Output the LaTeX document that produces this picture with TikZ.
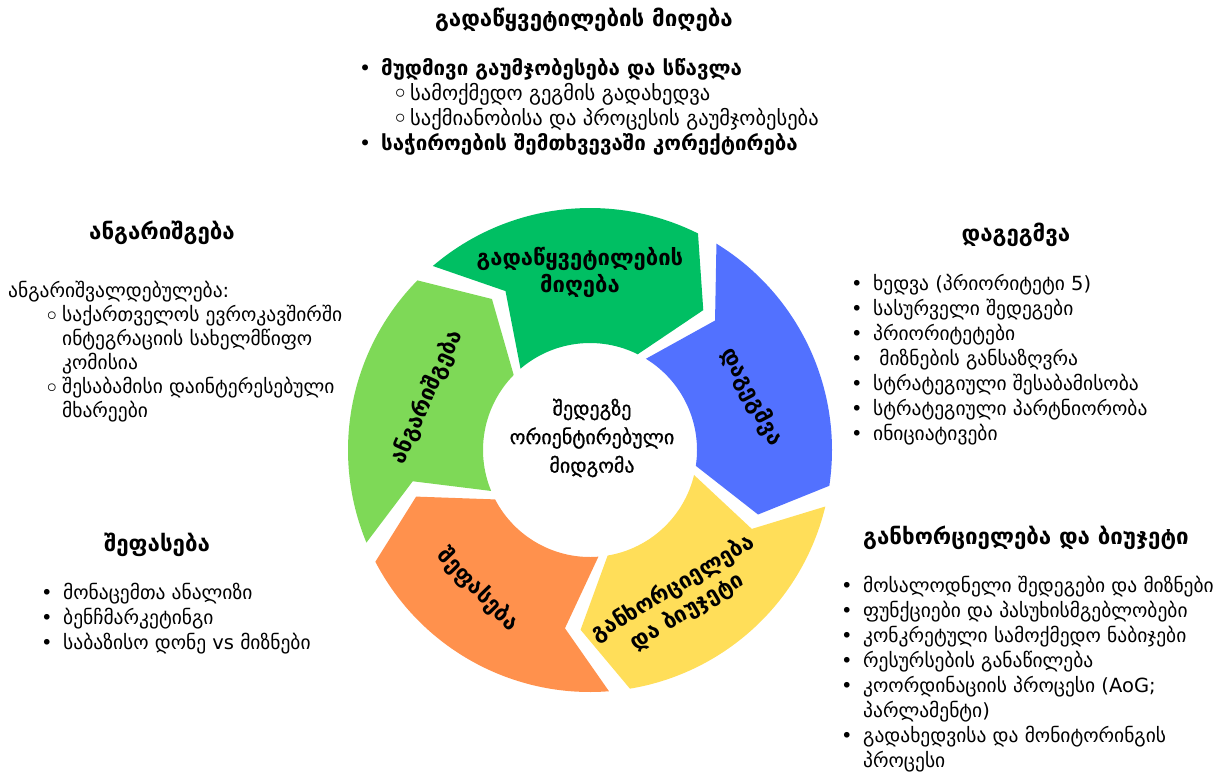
\documentclass[tikz,border=0pt]{standalone}
\usepackage{fontspec}
\setmainfont{DejaVu Sans}
\newfontfamily\corefont{DejaVu Sans}[FakeBold=0.9]
\usepackage{xcolor}

\definecolor{cGreen}{HTML}{00BF63}
\definecolor{cBlue}{HTML}{5271FF}
\definecolor{cYellow}{HTML}{FFDE59}
\definecolor{cOrange}{HTML}{FF914D}
\definecolor{cLime}{HTML}{7ED957}

\tikzset{
  heading/.style={font=\bfseries\fontsize{22.3}{26}\selectfont},
  bullets/.style={align=left, anchor=north west, inner sep=0pt, font=\fontsize{19.5}{25}\selectfont},
  seglabel/.style={align=center, font=\bfseries\fontsize{22}{27}\selectfont},
}
\newcommand{\bl}{\makebox[22pt][l]{•}}
\newcommand{\cl}{\makebox[18pt][l]{\raisebox{-3.5pt}{\scalebox{1.35}{◦}}}}

\begin{document}
\begin{tikzpicture}[x=1pt, y=-1pt]
  \useasboundingbox (0,0) rectangle (1228,772);

  % Ciclo
  \begin{scope}[shift={(590,450)}, y=1pt]
    \foreach \a/\col in {133/cGreen, 61/cBlue, -11/cYellow, -83/cOrange, -155/cLime}{
      \fill[\col] ({\a-2.5}:242) arc[start angle=\a-2.5, end angle=\a-69.5, radius=242]
        -- ({\a-82}:180) -- ({\a-69.5}:107)
        arc[start angle=\a-69.5, end angle=\a-2.5, radius=107]
        -- ({\a-15}:180) -- cycle;
    }
  \end{scope}

  \node[seglabel] (lDecision) at (580,272) {გადაწყვეტილების\\მიღება};
  \node[seglabel, rotate=-62] (lPlanning) at (752,397) {დაგეგმვა};
  \node[seglabel, rotate=31] (lImpl) at (680,600) {განხორციელება\\და ბიუჯეტი};
  \node[seglabel, rotate=-46] (lEval) at (478,590) {შეფასება};
  \node[seglabel, rotate=66] (lAccount) at (427,397) {ანგარიშგება};
  \node[align=center, font=\corefont\fontsize{20}{28.5}\selectfont] (core) at (592,438) {შედეგზე\\ორიენტირებული\\მიდგომა};

  % Sathaurebi
  \node[heading] (hDecision) at (584,20) {გადაწყვეტილების მიღება};
  \node[heading] (hAccount) at (162,233) {ანგარიშგება};
  \node[heading] (hPlanning) at (1016,235) {დაგეგმვა};
  \node[heading] (hImpl) at (1026,538) {განხორციელება და ბიუჯეტი};
  \node[heading] (hEval) at (157,545) {შეფასება};

  % Siebi
  \node[bullets, font=\fontsize{20.5}{25}\selectfont] (sDecision) at (359,58) {%
    \bl\textbf{მუდმივი გაუმჯობესება და სწავლა}\\
    \hspace{33pt}\cl სამოქმედო გეგმის გადახედვა\\
    \hspace{33pt}\cl საქმიანობისა და პროცესის გაუმჯობესება\\
    \bl\textbf{საჭიროების შემთხვევაში კორექტირება}};
  \node[bullets, font=\fontsize{19.5}{24}\selectfont] (sAccount) at (8,281) {%
    ანგარიშვალდებულება:\\
    \hspace{36pt}\cl საქართველოს ევროკავშირში\\
    \hspace{54pt}ინტეგრაციის სახელმწიფო\\
    \hspace{54pt}კომისია\\
    \hspace{36pt}\cl შესაბამისი დაინტერესებული\\
    \hspace{54pt}მხარეები};
  \node[bullets] (sPlanning) at (851,274) {%
    \bl ხედვა (პრიორიტეტი 5)\\
    \bl სასურველი შედეგები\\
    \bl პრიორიტეტები\\
    \bl\ მიზნების განსაზღვრა\\
    \bl სტრატეგიული შესაბამისობა\\
    \bl სტრატეგიული პარტნიორობა\\
    \bl ინიციატივები};
  \node[bullets] (sImpl) at (841,576) {%
    \bl მოსალოდნელი შედეგები და მიზნები\\
    \bl ფუნქციები და პასუხისმგებლობები\\
    \bl კონკრეტული სამოქმედო ნაბიჯები\\
    \bl რესურსების განაწილება\\
    \bl კოორდინაციის პროცესი (AoG;\\
    \hspace{22pt}პარლამენტი)\\
    \bl გადახედვისა და მონიტორინგის\\
    \hspace{22pt}პროცესი};
  \node[bullets] (sEval) at (41,583) {%
    \bl მონაცემთა ანალიზი\\
    \bl ბენჩმარკეტინგი\\
    \bl საბაზისო დონე vs მიზნები};
\end{tikzpicture}
\end{document}
